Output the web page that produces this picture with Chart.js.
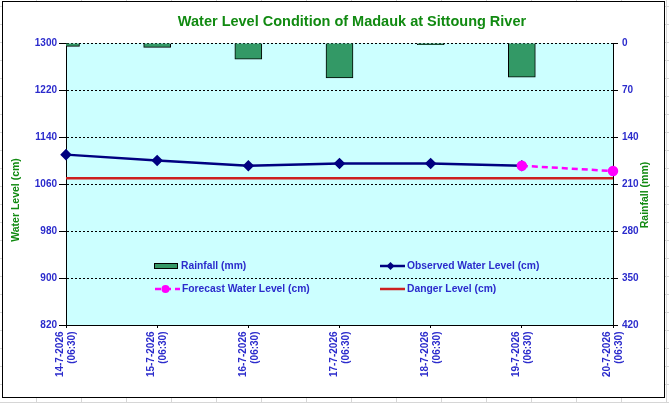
<!DOCTYPE html>
<html lang="en">
<head>
<meta charset="UTF-8">
<title>Water Level Condition of Madauk at Sittoung River</title>
<script src="https://cdn.jsdelivr.net/npm/chart.js"></script>
<style>
  body {
    margin: 0;
    width: 669px;
    height: 403px;
    overflow: hidden;
    position: relative;
    background-color: #fff;
    background-image: linear-gradient(to right, #d6d6d6 1px, transparent 1px),
                      linear-gradient(to bottom, #d6d6d6 1px, transparent 1px);
    background-size: 45px 18px;
    background-position: 36px 6px;
  }
  .frame {
    position: absolute;
    left: 2px;
    top: 1px;
    width: 661px;
    height: 395px;
    border: 1px solid #000;
    background: #fff;
  }
  canvas { position: absolute; left: 0; top: 0; }
</style>
</head>
<body>
<div class="frame"></div>
<canvas id="chart" width="669" height="403"></canvas>

<script>
// data
const dates = ['14-7-2026', '15-7-2026', '16-7-2026', '17-7-2026', '18-7-2026', '19-7-2026', '20-7-2026'];
const readTime = '(06:30)';
const rainfall = [5, 6.5, 24, 52, 2.5, 51, null];             // mm, right axis
const observed = [1110, 1100, 1091, 1095, 1095, 1091, null];  // cm
const forecast = [null, null, null, null, null, 1091, 1082];  // cm
const danger = [1070, 1070, 1070, 1070, 1070, 1070, 1070];    // cm
const levelTicks = { min: 820, max: 1300, step: 80 };
const rainTicks = { min: 0, max: 420, step: 70 };

const BLUE = '#2b2bcc';
const GREEN = '#118a11';
const FONT = '"Liberation Sans", Arial, sans-serif';

// cyan plot area
const plotBg = {
    id: 'plotBg',
    beforeDraw(chart) {
        const { ctx, chartArea: a } = chart;
        ctx.save();
        ctx.fillStyle = '#ccffff';
        ctx.fillRect(a.left, a.top, a.right - a.left, a.bottom - a.top);
        ctx.restore();
    }
};

// title, axis titles, rotated date labels and the in-plot legend
const decor = {
    id: 'decor',
    afterDraw(chart) {
        const ctx = chart.ctx;
        ctx.save();
        ctx.textBaseline = 'middle';

        ctx.fillStyle = GREEN;
        ctx.textAlign = 'center';
        ctx.font = 'bold 14.5px ' + FONT;
        ctx.fillText('Water Level Condition of Madauk at Sittoung River', 352, 22);

        ctx.font = 'bold 10.5px ' + FONT;
        ctx.save();
        ctx.translate(16, 200);
        ctx.rotate(-Math.PI / 2);
        ctx.fillText('Water Level (cm)', 0, 0);
        ctx.restore();
        ctx.save();
        ctx.translate(645, 195);
        ctx.rotate(-Math.PI / 2);
        ctx.fillText('Rainfall (mm)', 0, 0);
        ctx.restore();

        // category labels, two lines, reading upward
        const xs = chart.scales.x;
        ctx.fillStyle = BLUE;
        ctx.font = 'bold 10px ' + FONT;
        ctx.textAlign = 'right';
        dates.forEach((d, i) => {
            ctx.save();
            ctx.translate(xs.getPixelForTick(i), 331.5);
            ctx.rotate(-Math.PI / 2);
            ctx.fillText(d, 0, -5.5);
            ctx.fillText(readTime, 0, 6.5);
            ctx.restore();
        });

        const slots = [
            { ds: 0, x: 154, y: 266 },
            { ds: 1, x: 380, y: 266 },
            { ds: 2, x: 155, y: 289 },
            { ds: 3, x: 380, y: 289 }
        ];
        ctx.textAlign = 'left';
        ctx.font = 'bold 10.3px ' + FONT;
        slots.forEach(s => {
            const d = chart.data.datasets[s.ds];
            const w = 25;
            if (d.type === 'bar') {
                ctx.fillStyle = d.backgroundColor;
                ctx.fillRect(s.x, s.y - 2.5, 23, 5);
                ctx.strokeStyle = '#000';
                ctx.lineWidth = 1;
                ctx.strokeRect(s.x + 0.5, s.y - 2.5, 23, 5);
            } else {
                ctx.strokeStyle = d.borderColor;
                ctx.lineWidth = d.borderWidth;
                ctx.setLineDash(d.borderDash || []);
                ctx.beginPath();
                ctx.moveTo(s.x, s.y);
                ctx.lineTo(s.x + w, s.y);
                ctx.stroke();
                ctx.setLineDash([]);
                const cx = s.x + w / 2 - 2;
                ctx.fillStyle = d.pointBackgroundColor;
                if (d.pointRadius > 0 && d.pointStyle === 'rectRot') {
                    const r = d.pointRadius;
                    ctx.beginPath();
                    ctx.moveTo(cx, s.y - r);
                    ctx.lineTo(cx + r, s.y);
                    ctx.lineTo(cx, s.y + r);
                    ctx.lineTo(cx - r, s.y);
                    ctx.closePath();
                    ctx.fill();
                } else if (d.pointRadius > 0) {
                    ctx.beginPath();
                    ctx.arc(cx, s.y, d.pointRadius, 0, Math.PI * 2);
                    ctx.fill();
                }
            }
            ctx.fillStyle = BLUE;
            ctx.fillText(d.label, s.x + (d.type === 'bar' ? 27 : w + 2), s.y);
        });
        ctx.restore();
    }
};

new Chart(document.getElementById('chart'), {
    type: 'line',
    data: {
        labels: dates.map(d => [d, readTime]),
        datasets: [{
            type: 'bar',
            label: 'Rainfall (mm)',
            data: rainfall,
            yAxisID: 'y1',
            backgroundColor: '#339966',
            borderColor: '#000',
            borderWidth: 1,
            barThickness: 27,
            order: 4
        }, {
            label: 'Observed Water Level (cm)',
            data: observed,
            borderColor: '#000080',
            borderWidth: 2.5,
            pointStyle: 'rectRot',
            pointRadius: 4,
            pointBackgroundColor: '#000080',
            pointBorderColor: '#000080',
            tension: 0,
            order: 2
        }, {
            label: 'Forecast Water Level (cm)',
            data: forecast,
            borderColor: '#ff00ff',
            borderWidth: 2.5,
            borderDash: [6, 4],
            pointStyle: 'circle',
            pointRadius: 4,
            pointBackgroundColor: '#ff00ff',
            pointBorderColor: '#ff00ff',
            tension: 0,
            order: 1
        }, {
            label: 'Danger Level (cm)',
            data: danger,
            borderColor: '#cc2020',
            borderWidth: 2.5,
            pointRadius: 0,
            tension: 0,
            order: 3
        }]
    },
    options: {
        responsive: false,
        animation: false,
        layout: { padding: { top: 43, left: 0, right: 0, bottom: 0 } },
        plugins: {
            legend: { display: false },
            title: { display: false },
            tooltip: { enabled: false }
        },
        scales: {
            x: {
                offset: false,
                grid: { offset: false, drawOnChartArea: false, color: '#000', tickLength: 3 },
                border: { color: '#000', width: 1 },
                ticks: { display: false, autoSkip: false },
                afterFit: s => { s.height = 78; }
            },
            y: {
                position: 'left',
                min: levelTicks.min,
                max: levelTicks.max,
                grid: { color: '#000', lineWidth: 1, tickLength: 7 },
                border: { color: '#000', width: 1, dash: [2, 2] },
                ticks: {
                    stepSize: levelTicks.step,
                    callback: v => String(v),
                    color: BLUE,
                    font: { family: FONT, size: 10, weight: 'bold' },
                    padding: 2
                },
                afterFit: s => { s.width = 66; }
            },
            y1: {
                position: 'right',
                reverse: true,
                min: rainTicks.min,
                max: rainTicks.max,
                grid: { drawOnChartArea: false, color: '#000', tickLength: 5 },
                border: { color: '#000', width: 1 },
                ticks: {
                    stepSize: rainTicks.step,
                    callback: v => String(v),
                    color: BLUE,
                    font: { family: FONT, size: 10, weight: 'bold' },
                    padding: 4
                },
                afterFit: s => { s.width = 56; }
            }
        }
    },
    plugins: [plotBg, decor]
});
</script>
</body>
</html>
